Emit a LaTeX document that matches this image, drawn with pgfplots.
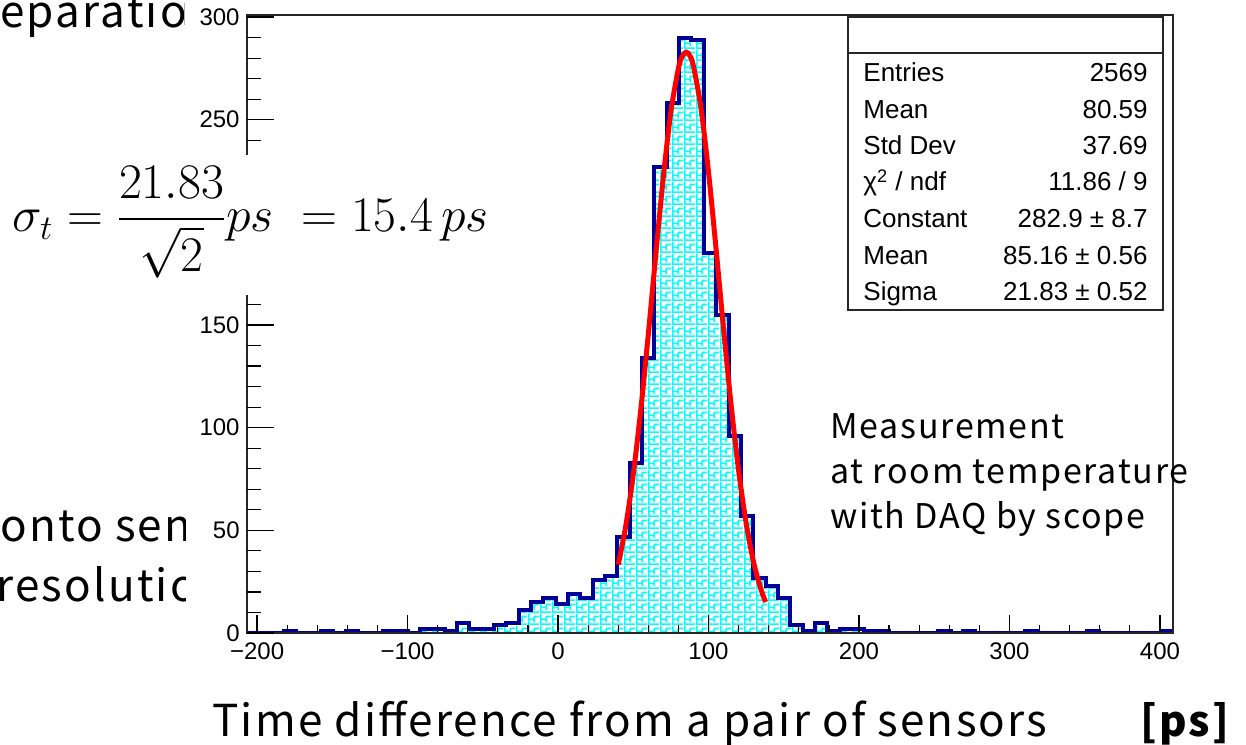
\documentclass[border=0pt]{standalone}
\usepackage{amsmath}
\usepackage{pgfplots}
\pgfplotsset{compat=1.18}
\usepackage{fontspec}
\setmainfont{Liberation Sans}
\newfontfamily\slidefont[LetterSpace=5]{Noto Sans CJK JP}
\newfontfamily\notefont[LetterSpace=5]{Noto Sans CJK JP}
\usetikzlibrary{patterns}

\definecolor{histblue}{RGB}{0,0,153}
\definecolor{histcyan}{RGB}{0,255,255}
\definecolor{fitred}{RGB}{255,0,0}

% rough stand-in for the ROOT hatch style
\pgfdeclarepatternformonly{rootmaze}{\pgfqpoint{0pt}{0pt}}{\pgfqpoint{6pt}{6pt}}{\pgfqpoint{6pt}{6pt}}{%
  \pgfsetlinewidth{0.85pt}%
  \pgfpathmoveto{\pgfqpoint{0pt}{0.45pt}}\pgfpathlineto{\pgfqpoint{6pt}{0.45pt}}%
  \pgfpathmoveto{\pgfqpoint{0.45pt}{0pt}}\pgfpathlineto{\pgfqpoint{0.45pt}{6pt}}%
  \pgfpathmoveto{\pgfqpoint{0.45pt}{3pt}}\pgfpathlineto{\pgfqpoint{3.3pt}{3pt}}%
  \pgfpathmoveto{\pgfqpoint{3.3pt}{1.6pt}}\pgfpathlineto{\pgfqpoint{3.3pt}{4.6pt}}%
  \pgfpathmoveto{\pgfqpoint{3.3pt}{4.6pt}}\pgfpathlineto{\pgfqpoint{6pt}{4.6pt}}%
  \pgfusepath{stroke}}

% bin left edge, count (last row closes the last bin)
\pgfplotstableread{
x       n
-206.70 0
-198.50 0
-190.29 0
-182.09 1
-173.88 0
-165.68 0
-157.47 1
-149.27 0
-141.06 1
-132.86 0
-124.65 0
-116.45 1
-108.24 1
-100.04 0
-91.83  2
-83.63  2
-75.42  1
-67.22  5
-59.01  2
-50.81  2
-42.60  4
-34.40  5
-26.19  11
-17.99  15
-9.78   17
-1.58   14
6.63    19
14.84   17
23.04   26
31.25   28
39.45   47
47.66   83
55.86   134
64.07   227
72.27   258
80.48   290
88.68   289
96.89   185
105.09  155
113.30  96
121.50  57
129.71  27
137.91  23
146.12  17
154.32  4
162.53  1
170.73  5
178.94  1
187.14  2
195.35  2
203.55  1
211.76  1
219.96  0
228.17  0
236.37  0
244.58  0
252.78  1
260.99  0
269.19  1
277.40  0
285.60  0
293.81  0
302.01  0
310.22  1
318.42  0
326.63  0
334.83  0
343.04  0
351.24  1
359.45  0
367.65  0
375.86  0
384.06  0
392.27  0
400.47  1
408.68  1
}\histdata

% gaussian fit, read point by point
\pgfplotstableread{
x      f
40     33.3
45     52.1
50     77.3
55     108.9
60     145.6
65     184.7
70     222.3
75     253.9
80     275.1
82.5   280.8
85.16  282.9
87.5   281.3
90     276.0
95     255.6
100    224.5
105    187.2
110    148.1
115    111.2
120    79.2
125    53.5
130    34.3
135    20.9
138    15.1
}\fitdata

\newcommand{\statrow}[3]{%
  \node[anchor=base west,inner sep=0pt] at (863,#1) {#2};
  \node[anchor=base east,inner sep=0pt] at (1148,#1) {#3};}

\begin{document}
\begin{tikzpicture}[x=0.5pt,y=0.5pt]
\path[use as bounding box] (0,0) rectangle (1246,744);

% slide text cut off by the pasted plot
\begin{scope}
\clip (0,0) rectangle (185,744);
\begin{scope}[every node/.style={anchor=base west,inner sep=0pt,font=\slidefont\fontsize{22}{26}\selectfont}]
\node at (0,716) {eparation};
\node at (0,202) {onto sensors};
\node at (-4,142) {resolution};
\end{scope}
\end{scope}
\draw[black!30,line width=0.5pt] (184,741) -- (184,719);

\begin{axis}[
  at={(123.5pt,55.5pt)}, anchor=south west,
  scale only axis, width=463pt, height=309pt,
  xmin=-206.70, xmax=408.68, ymin=0, ymax=301,
  axis on top,
  axis line style={line width=0.8pt,black!85},
  xtick={-200,-100,0,100,200,300,400},
  xticklabels={−200,−100,0,100,200,300,400},
  ytick=\empty,
  minor x tick num=4,
  tick pos=left, tick align=inside,
  major tick length=9pt, minor tick length=4pt,
  tick style={line width=0.6pt,black},
  xticklabel style={font=\fontsize{12}{12}\selectfont,inner sep=0pt,yshift=-4.5pt},
]
\addplot[const plot, draw=none, pattern=rootmaze, pattern color=histcyan]
  table[x=x,y=n] {\histdata} \closedcycle;
\addplot[const plot, histblue, line width=2pt] table[x=x,y=n] {\histdata};
\addplot[fitred, line width=2.5pt, smooth] table[x=x,y=f] {\fitdata};
\end{axis}

\begin{axis}[
  at={(123.5pt,55.5pt)}, anchor=south west,
  scale only axis, width=463pt, height=309pt,
  xmin=-206.70, xmax=408.68, ymin=0, ymax=301,
  axis line style={draw=none},
  xtick=\empty,
  ytick={0,50,100,150,200,250,300},
  yticklabels={0,50,100,150,200,250,300},
  minor y tick num=4,
  tick pos=left, tick align=inside,
  major tick length=13.5pt, minor tick length=7pt,
  tick style={line width=0.6pt,black},
  yticklabel style={font=\fontsize{12}{12}\selectfont,inner sep=0pt,xshift=-3.5pt},
]
\addplot[draw=none] coordinates {(0,0)};
\end{axis}

% formula pasted over the axis
\fill[white] (190,449) rectangle (530,589);
\node[anchor=west,inner sep=0pt,font=\fontsize{25}{29}\selectfont] at (12,522)
  {$\sigma_t = \dfrac{21.83}{\sqrt{2}}ps\ = 15.4\,ps$};

% stats box
\fill[white] (848,727) rectangle (1163,434);
\draw[line width=0.75pt,black!85] (848,727) rectangle (1163,434);
\draw[line width=0.75pt,black!85] (848,691) -- (1163,691);
\begin{scope}[font=\fontsize{13}{13}\selectfont]
\statrow{662}{Entries}{2569}
\statrow{625}{Mean}{80.59}
\statrow{589}{Std Dev}{37.69}
\statrow{553}{χ\textsuperscript{2} / ndf}{11.86 / 9}
\statrow{516}{Constant}{282.9 ± 8.7}
\statrow{479}{Mean}{85.16 ± 0.56}
\statrow{443}{Sigma}{21.83 ± 0.52}
\end{scope}

\begin{scope}[every node/.style={anchor=base west,inner sep=0pt,font=\notefont\fontsize{17}{19}\selectfont}]
\node at (830,305) {Measurement};
\node at (830,260) {at room temperature};
\node at (830,215) {with DAQ by scope};
\end{scope}

\node[anchor=base west,inner sep=0pt,font=\slidefont\fontsize{22}{26}\selectfont] at (212,8)
  {Time difference from a pair of sensors};
\node[anchor=base west,inner sep=0pt,font=\slidefont\fontsize{21}{25}\selectfont\bfseries] at (1140,8)
  {[ps]};
\end{tikzpicture}
\end{document}
